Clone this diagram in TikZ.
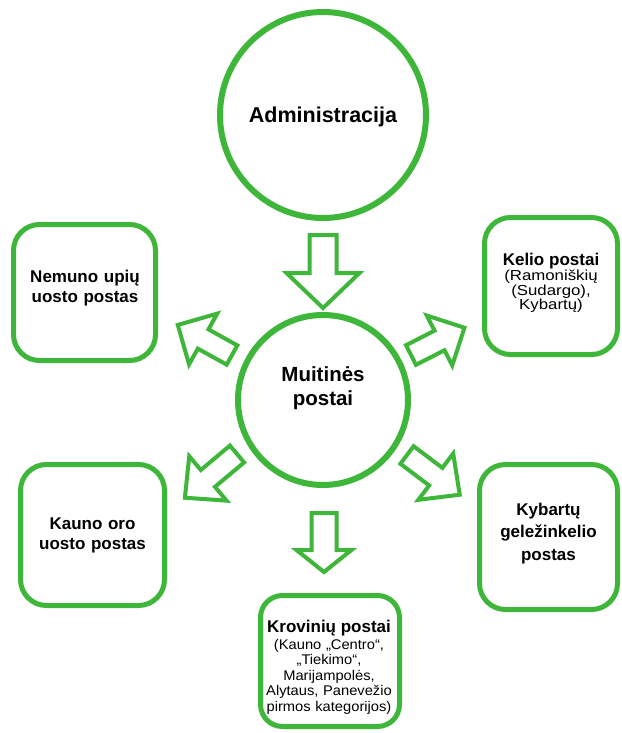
\documentclass[tikz,border=0pt]{standalone}
\usepackage{fontspec}
\setmainfont{Liberation Sans}
\newfontfamily\regwide[FakeStretch=1.05]{Liberation Sans}
\newfontfamily\regwider[FakeStretch=1.16]{Liberation Sans}
\definecolor{grn}{RGB}{62,182,58}
\tikzset{
  ring/.style={circle, draw=grn, line width=6pt, fill=white, inner sep=0pt},
  post/.style={draw=grn, line width=5pt, rounded corners=26pt, fill=white, inner sep=0pt},
  boldtxt/.style={align=center, text width=150pt, inner sep=0pt, font=\bfseries\fontsize{17}{20}\selectfont},
  barrow/.style={draw=grn, line width=4pt, fill=white, line join=miter},
}
% #1 name, #2 tail x, #3 tail y, #4 rotate, #5 length, #6 shaft width, #7 head width, #8 head length
\newcommand\blockarr[8]{%
  \begin{scope}[shift={(#2,#3)}, rotate=#4]
    \draw[barrow] (0,-#6/2) -- (#5-#8,-#6/2) -- (#5-#8,-#7/2) -- (#5,0)
      -- (#5-#8,#7/2) -- (#5-#8,#6/2) -- (0,#6/2) -- cycle;
    \coordinate (#1) at (#5,0);
  \end{scope}}
\begin{document}
\begin{tikzpicture}[x=1pt,y=-1pt]
\useasboundingbox (0,0) rectangle (621,733);
\fill[white] (0,0) rectangle (621,733);

% circles
\node[ring, minimum size=206pt] (adm) at (323,115) {};
\node[font=\bfseries\fontsize{21.5}{24}\selectfont, inner sep=0pt, anchor=base] (admT) at (323,123) {Administracija};

\node[ring, minimum size=170pt] (mp) at (323,400) {};
\node[font=\bfseries\fontsize{20.5}{24}\selectfont, align=center, inner sep=0pt] (mpT) at (323,388) {Muitinės\\postai};

% boxes
\node[post, minimum width=142pt, minimum height=136pt] (nem) at (84.5,292.5) {};
\node[boldtxt] (nemT) at (85,288.6) {Nemuno upių\\uosto postas};

\node[post, minimum width=133pt, minimum height=137pt] (kel) at (551,286) {};
\node[align=center, text width=150pt, inner sep=0pt, font=\fontsize{14.5}{14.5}\selectfont] (kelT) at (551,283.3)
  {\bfseries\fontsize{17}{17}\selectfont Kelio postai\\[0.5pt]\regwider\mdseries\fontsize{14.5}{14.5}\selectfont (Ramoniškių\\(Sudargo),\\Kybartų)};

\node[post, minimum width=144pt, minimum height=141pt] (kau) at (92.5,535) {};
\node[boldtxt] (kauT) at (92.5,535.6) {Kauno oro\\uosto postas};

\node[post, minimum width=138pt, minimum height=145pt] (kyb) at (548.5,537) {};
\node[boldtxt, font=\bfseries\fontsize{17}{22.5}\selectfont] (kybT) at (548.5,533.2) {Kybartų\\geležinkelio\\postas};

\node[post, minimum width=139pt, minimum height=131pt, rounded corners=22pt] (krov) at (330,661) {};
\node[align=center, text width=150pt, inner sep=0pt, font=\fontsize{14}{15.5}\selectfont] (krovT) at (329,667.3)
  {\bfseries\fontsize{17}{15.5}\selectfont Krovinių postai\\[1pt]\regwide\mdseries\fontsize{14}{15.5}\selectfont (Kauno „Centro“,\\„Tiekimo“,\\Marijampolės,\\Alytaus, Panevežio\\pirmos kategorijos)};

% block arrows
\blockarr{aTop}{323}{235}{-90}{73}{27}{73}{35}
\blockarr{aBot}{324}{513}{-90}{59}{25}{55}{22}
\blockarr{aNW}{232}{355}{151}{62}{22}{58}{29}
\blockarr{aNE}{411}{355}{27}{60}{22}{56}{28}
\blockarr{aSW}{237}{454}{-140}{68}{22}{58}{30}
\blockarr{aSE}{407}{455}{-37}{66}{22}{58}{30}
\end{tikzpicture}
\end{document}
